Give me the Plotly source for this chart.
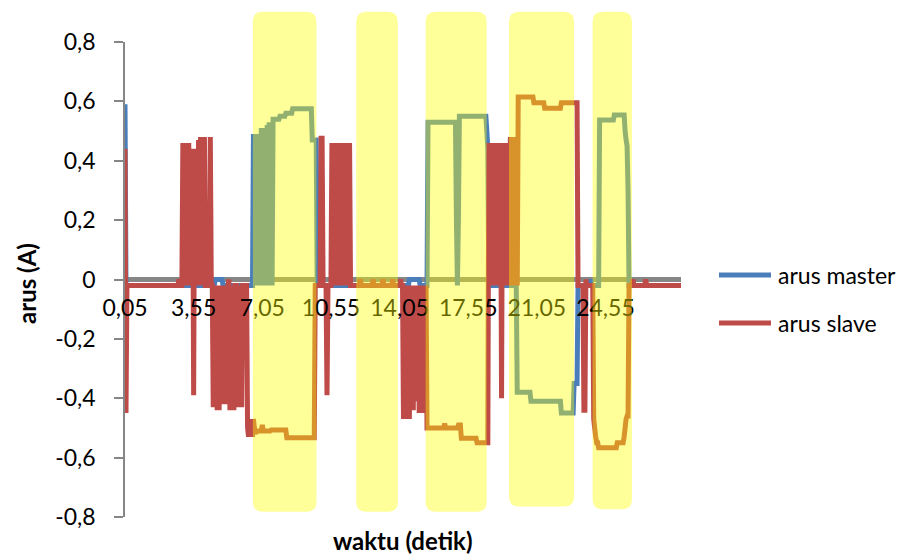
import plotly.graph_objects as go

# ---------------------------------------------------------------------------
# Data: current of master and slave, sampled every 0.05 s (568 samples).
# Each series is stored as runs of (value in A, number of samples).
# ---------------------------------------------------------------------------
REST = -0.02
SAMPLE_STEP = 0.05
N_SAMPLES = 568

arus_master_runs = [
    (0.59, 1), (REST, 91), (0.0, 8), (REST, 31),
    # switching burst at the start of the first window
    (0.49, 1), (REST, 1), (0.49, 1), (REST, 1), (0.49, 1), (REST, 1),
    (0.49, 1), (REST, 1), (0.51, 1), (REST, 1), (0.51, 1), (REST, 1),
    (0.51, 1), (REST, 1), (0.52, 1), (REST, 1), (0.53, 1), (REST, 1),
    (0.53, 1), (REST, 1),
    (0.54, 7), (0.55, 6), (0.56, 7), (0.575, 20), (0.47, 5),
    (REST, 94), (0.0, 11), (REST, 8),
    (0.53, 29), (0.2, 1), (REST, 1), (0.2, 1), (0.55, 28), (0.50, 1), (0.44, 1),
    (REST, 29),
    (-0.38, 14), (-0.41, 31), (-0.45, 13), (-0.35, 4),
    (REST, 13), (0.0, 1), (REST, 8),
    (0.537, 15), (0.554, 11), (0.50, 1), (0.47, 1), (0.45, 1), (0.3, 1),
    (REST, 54),
]

arus_slave_runs = [
    (0.44, 1), (-0.45, 1), (REST, 53), (0.0, 1), (REST, 3),
    # positive spikes before the first window
    (0.46, 1), (REST, 1), (0.46, 1), (REST, 1), (0.46, 1), (REST, 1),
    (0.46, 1), (REST, 1), (0.44, 1), (REST, 1), (0.44, 1), (-0.39, 1),
    (0.44, 1), (REST, 1), (0.44, 1), (REST, 1), (0.47, 1), (REST, 1),
    (0.48, 1), (REST, 1), (0.48, 1), (REST, 1), (0.48, 1),
    (REST, 5), (0.48, 1), (REST, 2),
    # negative spikes
    (-0.43, 1), (REST, 1), (-0.43, 1), (REST, 1), (-0.44, 1), (REST, 1),
    (-0.44, 1), (REST, 1), (-0.42, 1), (REST, 1), (-0.42, 1), (REST, 1),
    (-0.42, 1), (REST, 1), (-0.42, 1), (REST, 1), (0.0, 1), (-0.44, 1),
    (REST, 1), (-0.44, 1), (REST, 1), (-0.44, 1), (REST, 3),
    (-0.43, 1), (REST, 1), (-0.43, 1), (REST, 1), (-0.43, 1), (REST, 5),
    # first window
    (-0.50, 1), (-0.53, 1), (-0.50, 1), (-0.53, 1), (-0.47, 1), (-0.53, 1),
    (-0.47, 1), (-0.50, 1), (-0.52, 1),
    (-0.51, 6), (-0.49, 1), (-0.51, 8), (-0.507, 16), (-0.533, 29),
    (REST, 6), (0.476, 2), (REST, 4), (-0.39, 1), (REST, 4),
    (0.46, 1), (REST, 1), (0.46, 1), (REST, 1), (0.46, 1), (REST, 1),
    (0.46, 1), (REST, 1), (0.46, 1), (REST, 1), (0.46, 1), (REST, 1),
    (0.46, 1), (REST, 1), (0.46, 1), (REST, 1), (0.46, 1), (REST, 1),
    (0.46, 1),
    (REST, 10), (0.0, 1), (REST, 12), (0.0, 1), (REST, 9), (0.0, 1),
    (REST, 9), (0.0, 1), (REST, 7), (0.0, 1), (REST, 2),
    (-0.47, 1), (REST, 1), (-0.47, 1), (REST, 1), (-0.47, 1), (REST, 1),
    (-0.47, 1), (REST, 1), (-0.44, 1), (REST, 1), (-0.44, 1), (REST, 1),
    (-0.41, 1), (REST, 1), (-0.41, 1), (REST, 1), (-0.45, 1), (REST, 1),
    (-0.45, 1), (REST, 1), (-0.45, 1), (REST, 1), (-0.45, 1),
    (REST, 1),
    (-0.50, 18), (-0.485, 1), (-0.50, 13), (-0.49, 3), (-0.535, 16), (-0.55, 12),
    (0.46, 1), (REST, 1), (0.46, 1), (REST, 1), (0.46, 1), (REST, 1),
    (0.46, 1), (REST, 1), (0.46, 1), (REST, 1), (0.46, 1), (REST, 1),
    (0.46, 1), (-0.40, 1), (0.46, 1), (REST, 1), (0.46, 1), (REST, 1),
    (0.46, 1), (REST, 1), (0.46, 1),
    (REST, 1), (0.48, 1), (REST, 1), (0.48, 1), (REST, 1), (0.48, 1),
    (REST, 1), (0.48, 1), (REST, 1),
    (0.615, 16), (0.595, 11), (0.577, 17), (0.595, 17),
    (REST, 6), (-0.44, 2), (0.0, 1), (REST, 7),
    (-0.47, 1), (-0.50, 1), (-0.53, 1), (-0.55, 2), (-0.567, 19), (-0.55, 7),
    (-0.53, 1), (-0.50, 1), (-0.47, 1), (-0.46, 2),
    (REST, 4), (0.0, 1), (REST, 12), (0.0, 1), (REST, 36),
]

tick_waktu = [0.05, 3.55, 7.05, 10.55, 14.05, 17.55, 21.05, 24.55]
tick_waktu_text = ["0,05", "3,55", "7,05", "10,55", "14,05", "17,55", "21,05", "24,55"]
tick_arus = [-0.8, -0.6, -0.4, -0.2, 0.0, 0.2, 0.4, 0.6, 0.8]
tick_arus_text = ["-0,8", "-0,6", "-0,4", "-0,2", "0", "0,2", "0,4", "0,6", "0,8"]

# highlighted time windows (start s, end s, lower edge in A)
highlight_windows = [
    (6.57, 9.81, -0.782),
    (11.84, 13.96, -0.782),
    (15.38, 18.49, -0.782),
    (19.63, 22.95, -0.765),
    (23.89, 25.90, -0.774),
]
HIGHLIGHT_TOP = 0.902


def expand(runs):
    values = []
    for value, count in runs:
        values.extend([value] * count)
    return values


arus_master = expand(arus_master_runs)
arus_slave = expand(arus_slave_runs)
assert len(arus_master) == N_SAMPLES, len(arus_master)
assert len(arus_slave) == N_SAMPLES, len(arus_slave)
waktu = [round(SAMPLE_STEP * (k + 1), 2) for k in range(N_SAMPLES)]

# ---------------------------------------------------------------------------
# Layout geometry (pixels)
# ---------------------------------------------------------------------------
W, H = 906, 554
M_L, M_R, M_T, M_B = 125, 225, 42, 37
PLOT_W = W - M_L - M_R
PLOT_H = H - M_T - M_B
Y_MIN, Y_MAX = -0.8, 0.8
X_MIN, X_MAX = waktu[0], waktu[-1]

FONT = "Lato"
FONT_SIZE = 23
TITLE_SIZE = 24
LINE_W = 5
BLUE = "rgb(74,126,187)"
RED = "rgb(190,75,72)"
GREY = "rgb(134,134,134)"


def paper_x(px):
    return (px - M_L) / PLOT_W


def paper_y(py):
    return (H - M_B - py) / PLOT_H


def value_to_paper_y(v):
    return (v - Y_MIN) / (Y_MAX - Y_MIN)


fig = go.Figure()
fig.add_trace(go.Scatter(
    x=waktu, y=arus_master, mode="lines", name="arus master",
    line=dict(color=BLUE, width=LINE_W, simplify=False), showlegend=False,
))
fig.add_trace(go.Scatter(
    x=waktu, y=arus_slave, mode="lines", name="arus slave",
    line=dict(color=RED, width=LINE_W, simplify=False), showlegend=False,
))

# translucent yellow rounded windows drawn over the curves
rx = 10 * (X_MAX - X_MIN) / PLOT_W
ry = 10 / PLOT_H
shapes = []
for t0, t1, v_bottom in highlight_windows:
    y0 = value_to_paper_y(v_bottom)
    y1 = value_to_paper_y(HIGHLIGHT_TOP)
    path = (
        f"M {t0 + rx},{y0} L {t1 - rx},{y0} Q {t1},{y0} {t1},{y0 + ry} "
        f"L {t1},{y1 - ry} Q {t1},{y1} {t1 - rx},{y1} "
        f"L {t0 + rx},{y1} Q {t0},{y1} {t0},{y1 - ry} "
        f"L {t0},{y0 + ry} Q {t0},{y0} {t0 + rx},{y0} Z"
    )
    shapes.append(dict(
        type="path", path=path, xref="x", yref="paper",
        fillcolor="rgba(255,255,0,0.4)", line=dict(width=0), layer="above",
    ))

# legend keys
legend_items = [("arus master", BLUE, 275), ("arus slave", RED, 323)]
annotations = []
for label, color, py in legend_items:
    shapes.append(dict(
        type="line", xref="paper", yref="paper",
        x0=paper_x(719), x1=paper_x(771), y0=paper_y(py), y1=paper_y(py),
        line=dict(color=color, width=LINE_W),
    ))
    annotations.append(dict(
        text=label, xref="paper", yref="paper", x=paper_x(776), y=paper_y(py),
        xanchor="left", yanchor="middle", showarrow=False,
        font=dict(family=FONT, size=FONT_SIZE, color="black"),
    ))

annotations.append(dict(
    text="<b>waktu (detik)</b>", xref="paper", yref="paper",
    x=paper_x(403), y=paper_y(540), xanchor="center", yanchor="middle",
    showarrow=False, font=dict(family=FONT, size=TITLE_SIZE, color="black"),
))
annotations.append(dict(
    text="<b>arus (A)</b>", xref="paper", yref="paper",
    x=paper_x(26), y=paper_y(284), xanchor="center", yanchor="middle",
    textangle=-90, showarrow=False,
    font=dict(family=FONT, size=TITLE_SIZE, color="black"),
))

fig.update_layout(
    width=W, height=H,
    margin=dict(l=M_L, r=M_R, t=M_T, b=M_B, pad=0),
    paper_bgcolor="white", plot_bgcolor="white",
    showlegend=False,
    shapes=shapes, annotations=annotations,
    xaxis=dict(
        range=[X_MIN, X_MAX], anchor="free", position=0.5,
        showline=False, showgrid=False, zeroline=False, ticks="",
        tickmode="array", tickvals=tick_waktu, ticktext=tick_waktu_text,
        tickfont=dict(family=FONT, size=FONT_SIZE, color="black"),
        ticklabelstandoff=12,
    ),
    yaxis=dict(
        range=[Y_MIN, Y_MAX], showgrid=False,
        showline=True, linecolor=GREY, linewidth=1.5,
        ticks="outside", ticklen=9, tickwidth=1.5, tickcolor=GREY,
        tickmode="array", tickvals=tick_arus, ticktext=tick_arus_text,
        tickfont=dict(family=FONT, size=FONT_SIZE, color="black"),
        ticklabelstandoff=14,
        zeroline=True, zerolinecolor=GREY, zerolinewidth=5,
        layer="below traces",
    ),
)

fig.write_html("out.html")
